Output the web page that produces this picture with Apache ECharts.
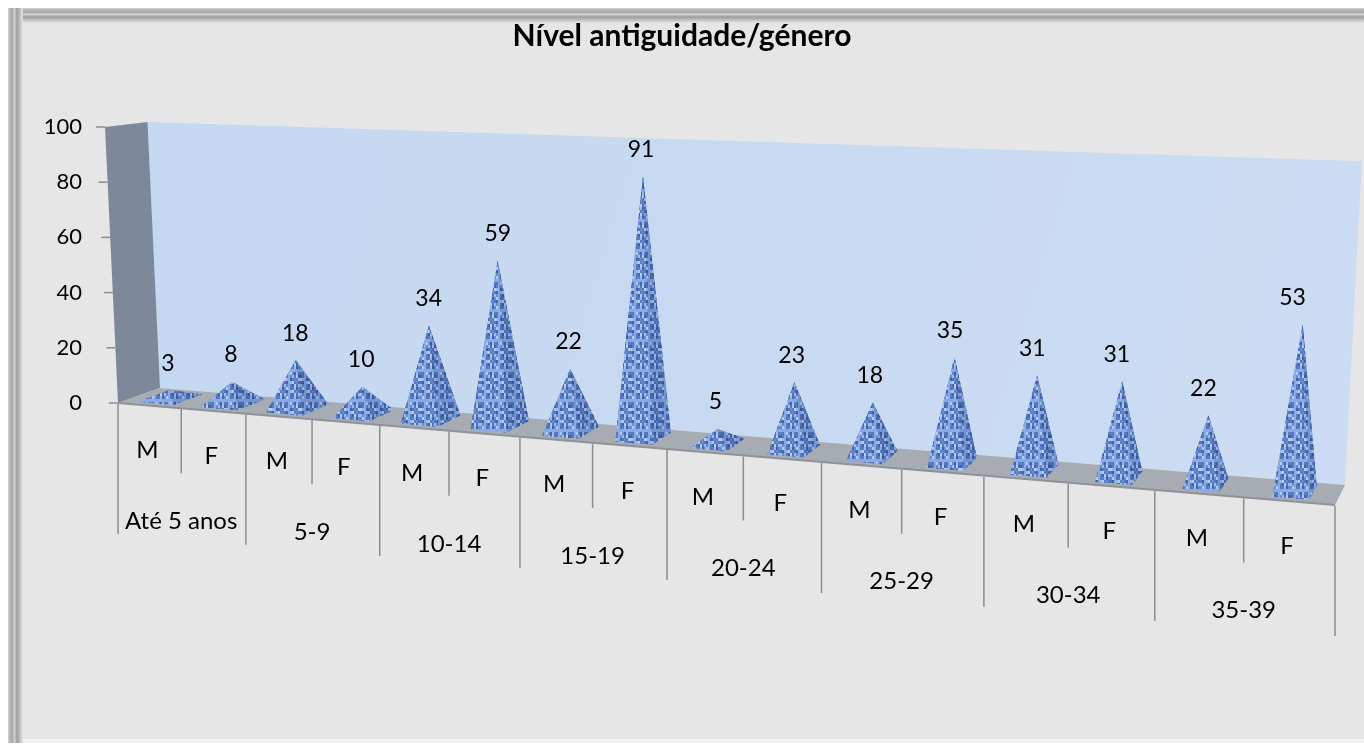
<!DOCTYPE html>
<html>
<head>
<meta charset="utf-8">
<script src="https://cdn.jsdelivr.net/npm/echarts@6/dist/echarts.min.js"></script>
<style>
  html, body { margin: 0; padding: 0; background: #ffffff; }
  #chart { width: 1364px; height: 746px; }
</style>
</head>
<body>
<div id="chart"></div>
<script>
// Seniority groups, gender split inside each group, and head counts per bar
const groups = ['Até 5 anos', '5-9', '10-14', '15-19', '20-24', '25-29', '30-34', '35-39'];
const genders = ['M', 'F'];
const values = [3, 8, 18, 10, 34, 59, 22, 91, 5, 23, 18, 35, 31, 31, 22, 53];
const yTicks = [0, 20, 40, 60, 80, 100];

const categories = [];
groups.forEach(g => genders.forEach(s => categories.push(g + ' ' + s)));

const FONT = 'Lato, "Open Sans", sans-serif';

// ---- oblique 3D projection of the plot box ----
// s: 0..1 along the category axis, d: 0 (front) .. 1 (back), h: value height in axis pixels
const R = 0.822;            // horizontal foreshortening
const FLOOR_SLOPE = 0.0839; // front edge drop per pixel
function tOf(s) { return s * R / (1 + s * (R - 1)); }
function project(cs, s, d, h) {
  const tx = cs.width * tOf(s);
  const fx = cs.x + tx;
  const fy = cs.y + cs.height + FLOOR_SLOPE * tx;
  const dx = d * (42 - 32 * s);
  const dy = d * (-15 - 5 * s);
  const hh = h * (1 + 0.217 * s) * (1 - 0.036 * d);
  const lean = -0.047 + 0.099 * s;
  return [fx + dx + lean * hh, fy + dy - hh];
}

// mottled blue texture for the pyramids
function makeTexture() {
  const c = document.createElement('canvas');
  c.width = 30; c.height = 30;
  const ctx = c.getContext('2d');
  const pal = ['#4d72bb', '#86a8e4', '#b3cbf2', '#6088cf', '#3d5fa6', '#9bb8ec', '#5578c0'];
  for (let i = 0; i < 10; i++) {
    for (let j = 0; j < 15; j++) {
      ctx.fillStyle = pal[(i * 5 + j * 11 + (i * j) % 7) % pal.length];
      ctx.fillRect(j * 2, i * 3, 2, 3);
    }
  }
  return c;
}
const texture = { image: makeTexture(), repeat: 'repeat' };

function axisHeight(api, v) {
  return api.coord([0, 0])[1] - api.coord([0, v])[1];
}

// walls, floor, slanted value ticks and the two-level category labels
function renderFrame(params, api) {
  const cs = params.coordSys;
  const children = [];
  const top = axisHeight(api, 100);

  // back wall
  children.push({
    type: 'polygon',
    shape: { points: [project(cs, 0, 1, 0), project(cs, 1, 1, 0), project(cs, 1, 1, top), project(cs, 0, 1, top)] },
    style: {
      fill: { type: 'linear', x: 0, y: 0, x2: 1, y2: 1, colorStops: [
        { offset: 0, color: '#c5d8f1' }, { offset: 1, color: '#cbdcf3' }] }
    }
  });
  // side wall
  children.push({
    type: 'polygon',
    shape: { points: [project(cs, 0, 0, 0), project(cs, 0, 1, 0), project(cs, 0, 1, top), project(cs, 0, 0, top)] },
    style: { fill: '#7d899a' }
  });
  // floor
  children.push({
    type: 'polygon',
    shape: { points: [project(cs, 0, 0, 0), project(cs, 1, 0, 0), project(cs, 1, 1, 0), project(cs, 0, 1, 0)] },
    style: { fill: '#a7abb2' }
  });
  children.push({
    type: 'line',
    shape: (() => { const a = project(cs, 0, 0, 0), b = project(cs, 1, 0, 0); return { x1: a[0], y1: a[1], x2: b[0], y2: b[1] }; })(),
    style: { stroke: '#8e9299', lineWidth: 2 }
  });

  // value ticks along the outer wall edge
  yTicks.forEach(v => {
    const p = project(cs, 0, 0, axisHeight(api, v));
    children.push({ type: 'line', shape: { x1: p[0] - 9, y1: p[1], x2: p[0], y2: p[1] },
      style: { stroke: '#8c8c8c', lineWidth: 1.5 } });
  });

  // category dividers
  const n = categories.length;
  for (let k = 0; k <= n; k++) {
    const p = project(cs, k / n, 0, 0);
    const len = (k % genders.length === 0) ? 131 : 65;
    children.push({ type: 'line', shape: { x1: p[0], y1: p[1] + 1, x2: p[0], y2: p[1] + len },
      style: { stroke: '#8c8c8c', lineWidth: 1.5 } });
  }
  // gender labels
  for (let i = 0; i < n; i++) {
    const p = project(cs, (i + 0.5) / n, 0, 0);
    children.push({ type: 'text', style: {
      text: genders[i % genders.length], x: p[0] - 2, y: p[1] + 45,
      align: 'center', verticalAlign: 'middle', fontSize: 24, fontFamily: FONT, fill: '#000' } });
  }
  // group labels
  groups.forEach((g, gi) => {
    const p = project(cs, (gi * 2 + 1) / n, 0, 0);
    children.push({ type: 'text', style: {
      text: g, x: p[0], y: p[1] + 113,
      align: 'center', verticalAlign: 'middle', fontSize: 24, fontFamily: FONT, fill: '#000' } });
  });

  return { type: 'group', children };
}

// one textured pyramid per category, with its value above the apex
function renderPyramid(params, api) {
  const cs = params.coordSys;
  const i = api.value(0);
  const v = api.value(1);
  const base = api.coord([i, 0]);
  const h = (base[1] - api.coord([i, v])[1]) * 0.96;
  const s = (base[0] - cs.x) / cs.width;
  const hw = api.size([1, 0])[0] * 0.24;

  const C = project(cs, s, 0.5, 0);
  const A = project(cs, s, 0.5, h);
  const ddx = 0.35 * (42 - 32 * s), ddy = 0.35 * (-15 - 5 * s);
  const ux = hw, uy = hw * FLOOR_SLOPE;
  const FL = [C[0] - ux - ddx, C[1] - uy - ddy];
  const FR = [C[0] + ux - ddx, C[1] + uy - ddy];
  const BR = [C[0] + ux + ddx, C[1] + uy + ddy];
  const BL = [C[0] - ux + ddx, C[1] - uy + ddy];

  const face = (pts, shade) => ([
    { type: 'polygon', shape: { points: pts }, style: { fill: texture } },
    { type: 'polygon', shape: { points: pts }, style: { fill: shade } }
  ]);

  const children = [].concat(
    face([BL, BR, A], 'rgba(20,40,90,0.25)'),
    face([BL, FL, A], 'rgba(20,40,90,0.2)'),
    face([FR, BR, A], 'rgba(25,45,100,0.16)'),
    face([FL, FR, A], 'rgba(255,255,255,0.03)')
  );
  children.push({ type: 'text', style: {
    text: String(v), x: C[0] - 2, y: A[1] - 27,
    align: 'center', verticalAlign: 'middle', fontSize: 23, fontFamily: FONT, fill: '#000' } });
  return { type: 'group', children };
}

const chart = echarts.init(document.getElementById('chart'), null, { renderer: 'canvas' });

const bevelStops = [
  { offset: 0, color: '#d6d6d6' }, { offset: 0.12, color: '#b4b4b4' }, { offset: 0.3, color: '#a9a9a9' },
  { offset: 0.42, color: '#d2d2d2' }, { offset: 0.6, color: '#9d9d9d' }, { offset: 1, color: '#e6e6e6' }];
const leftBevel = { type: 'linear', x: 0, y: 0, x2: 1, y2: 0, colorStops: bevelStops };
const topBevel = { type: 'linear', x: 0, y: 0, x2: 0, y2: 1, colorStops: bevelStops };

chart.setOption({
  animation: false,
  backgroundColor: '#ffffff',
  graphic: [
    { type: 'rect', z: -10, shape: { x: 8, y: 8, width: 1400, height: 735 }, style: { fill: '#e6e6e6' } },
    { type: 'rect', z: -9, shape: { x: 8, y: 8, width: 1400, height: 15 }, style: { fill: topBevel } },
    { type: 'rect', z: -9, shape: { x: 8, y: 8, width: 15, height: 735 }, style: { fill: leftBevel } },
    { type: 'rect', z: -9, shape: { x: 23, y: 739, width: 1400, height: 4 }, style: { fill: '#f3f3f3' } }
  ],
  title: {
    text: 'Nível antiguidade/género',
    left: 'center',
    top: 16,
    textStyle: { fontSize: 30, fontWeight: 'bold', fontFamily: FONT, color: '#000' }
  },
  grid: { left: 118, right: 29, top: 127, bottom: 343 },
  xAxis: {
    type: 'category',
    data: categories,
    show: false
  },
  yAxis: {
    type: 'value',
    min: 0,
    max: 100,
    interval: 20,
    axisLine: { show: false },
    axisTick: { show: false },
    splitLine: { show: false },
    axisLabel: { margin: 36, fontSize: 22, fontFamily: FONT, color: '#000' }
  },
  series: [
    {
      type: 'custom',
      name: 'frame',
      z: 1,
      clip: false,
      silent: true,
      data: [[0, 0]],
      renderItem: renderFrame
    },
    {
      type: 'custom',
      name: 'Nível antiguidade/género',
      z: 2,
      clip: false,
      data: values.map((v, i) => [i, v]),
      encode: { x: 0, y: 1 },
      renderItem: renderPyramid
    }
  ]
});
</script>
</body>
</html>
